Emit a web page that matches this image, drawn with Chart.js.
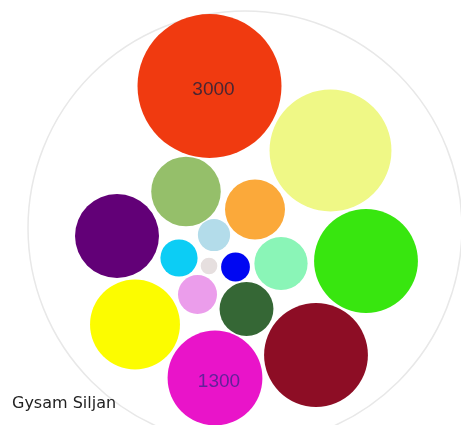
<!DOCTYPE html>
<html>
<head>
<meta charset="utf-8">
<script src="https://cdn.jsdelivr.net/npm/chart.js@4/dist/chart.umd.min.js"></script>
<style>
    body { margin: 0; background: #fff; }
    #wrap { position: relative; width: 461px; height: 425px; }
    #author {
        position: absolute; left: 12px; top: 393px;
        font-family: "DejaVu Sans", sans-serif; font-size: 16px; color: #222;
    }
</style>
</head>
<body>
<div id="wrap">
    <canvas id="chart" width="461" height="425"></canvas>
    <div id="author">Gysam Siljan</div>
</div>
<script>
"use strict"

// bubble values and centres (units from the centre of the outer ring)
const values = [3000, 2150, 700, 520, 1020, 1560, 150, 200, 40, 120, 410, 1170, 220, 420, 1560, 1300];
const xs = [-35.5, 85.5, -59, 10, -128, 121, -31, -66, -36, -9.5, 36, -110, -47.5, 1.5, 71, -30];
const ys = [142, 77.5, 36.5, 18.5, -8, -33, -7, -30, -38, -39, -35.5, -96.5, -66.5, -81, -127, -150];
const colors = ["#f03a10", "#eff886", "#95bf6a", "#fba93a", "#620077", "#38e60f", "#b3dcea", "#0ccdf5",
    "#e6dfdf", "#0007f2", "#8af5b7", "#fcfc00", "#eb9deb", "#356735", "#8d0d25", "#e914c9"];
const shownLabels = ["3000", "", "", "", "", "", "", "", "", "", "", "", "", "", "", "1300"];
const labelColors = ["#4a2632", "", "", "", "", "", "", "", "", "", "", "", "", "", "", "#64209a"];

const radiusPerSqrt = 72 / Math.sqrt(3000);

const points = [];
let maxRadius = 0;
for (let i = 0; i < values.length; i++) {
    const r = radiusPerSqrt * Math.sqrt(values[i]);
    maxRadius = Math.max(maxRadius, r);
    points.push({ x: xs[i], y: ys[i], r: r });
}

// the bubble controller pads the chart area by the biggest radius,
// so the axis ranges are shrunk by the same amount to keep 1 unit = 1px
const pad = maxRadius;

const ringPlugin = {
    id: "ring",
    beforeDatasetsDraw(chart) {
        const ctx = chart.ctx;
        const cx = chart.scales.x.getPixelForValue(0);
        const cy = chart.scales.y.getPixelForValue(0);
        ctx.save();
        ctx.beginPath();
        ctx.arc(cx, cy, 217, 0, Math.PI * 2);
        ctx.strokeStyle = "#e8e8e8";
        ctx.lineWidth = 1.5;
        ctx.stroke();
        ctx.restore();
    }
};

const labelPlugin = {
    id: "bubbleLabels",
    afterDatasetsDraw(chart) {
        const ctx = chart.ctx;
        const meta = chart.getDatasetMeta(0);
        ctx.save();
        ctx.font = "19px 'Liberation Sans', Arial, sans-serif";
        ctx.textAlign = "center";
        ctx.textBaseline = "middle";
        for (let i = 0; i < meta.data.length; i++) {
            if (!shownLabels[i]) continue;
            ctx.fillStyle = labelColors[i];
            ctx.fillText(shownLabels[i], meta.data[i].x + 4, meta.data[i].y + 4);
        }
        ctx.restore();
    }
};

const config = {
    type: "bubble",
    data: {
        datasets: [{
            data: points,
            backgroundColor: colors,
            borderWidth: 0,
            hoverRadius: 0,
            clip: false
        }]
    },
    options: {
        responsive: false,
        animation: false,
        layout: { padding: 0 },
        plugins: {
            legend: { display: false },
            tooltip: { enabled: false }
        },
        scales: {
            x: { type: "linear", min: -245 + pad, max: 216 - pad, display: false },
            y: { type: "linear", min: -197 + pad, max: 228 - pad, display: false }
        }
    },
    plugins: [ringPlugin, labelPlugin]
};

const myChart = new Chart(document.getElementById("chart"), config);
</script>
</body>
</html>
